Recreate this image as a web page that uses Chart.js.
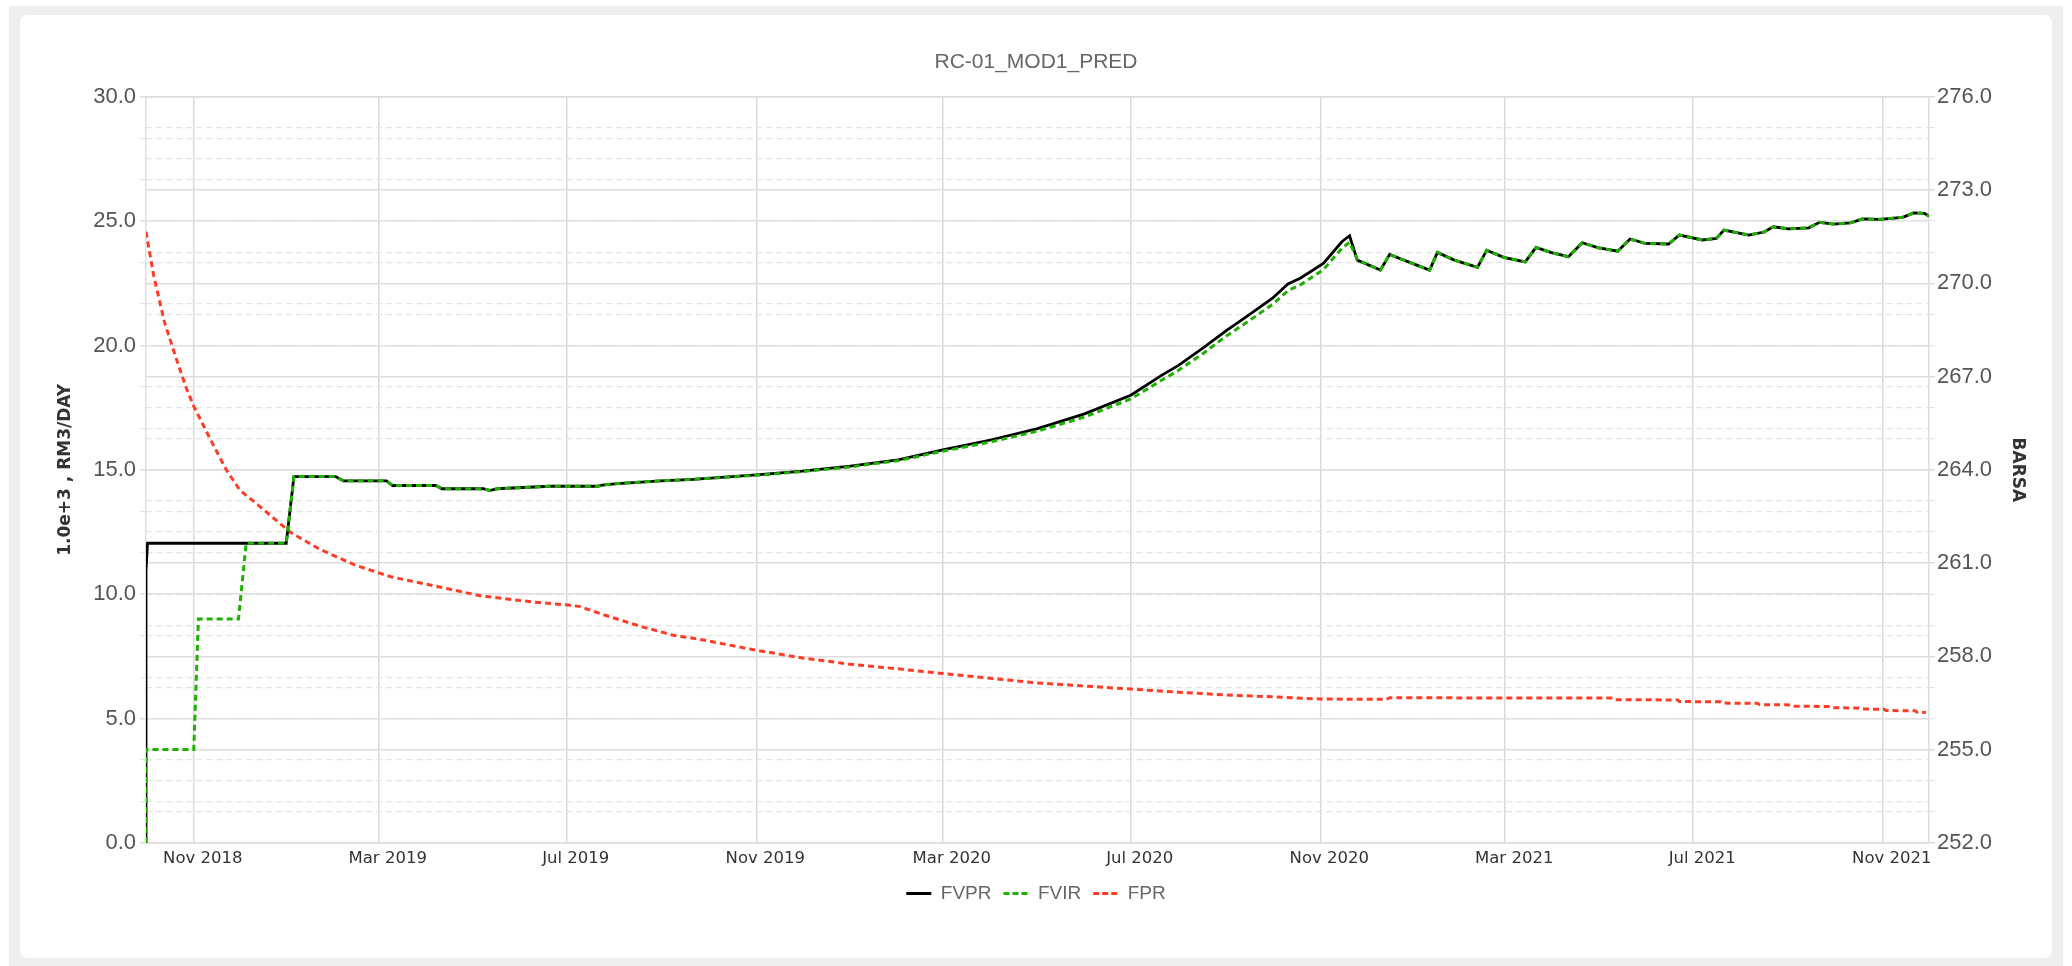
<!DOCTYPE html>
<html>
<head>
<meta charset="utf-8">
<title>RC-01_MOD1_PRED</title>
<script src="https://cdn.jsdelivr.net/npm/chart.js@4.4.0/dist/chart.umd.min.js"></script>
<style>
    html, body { margin: 0; padding: 0; background: #fff; }
    .frame { position: absolute; left: 9px; top: 6px; width: 2054px; height: 960px; background: #efefef; }
    .card { position: absolute; left: 11px; top: 9px; width: 2032px; height: 943px; background: #fff; border-radius: 8px; }
    canvas { display: block; }
</style>
</head>
<body>
<div class="frame">
    <div class="card">
        <canvas id="wellChart" width="2032" height="943"></canvas>
    </div>
</div>
<script>
// Axis range and tick labels
var xMin = '2018-10-01';
var xMax = '2021-12-01';
var xTickDates = ['2018-11-01', '2019-03-01', '2019-07-01', '2019-11-01', '2020-03-01',
    '2020-07-01', '2020-11-01', '2021-03-01', '2021-07-01', '2021-11-01'];
var xTickLabels = ['Nov 2018', 'Mar 2019', 'Jul 2019', 'Nov 2019', 'Mar 2020',
    'Jul 2020', 'Nov 2020', 'Mar 2021', 'Jul 2021', 'Nov 2021'];

var leftTicks = [0, 5, 10, 15, 20, 25, 30];
var leftMinorTicks = [1.667, 3.333, 6.667, 8.333, 11.667, 13.333, 16.667, 18.333, 21.667, 23.333, 26.667, 28.333];
var rightTicks = [252, 255, 258, 261, 264, 267, 270, 273, 276];
var rightMinorTicks = [253, 254, 256, 257, 259, 260, 262, 263, 265, 266, 268, 269, 271, 272, 274, 275];

// FVPR (1.0e+3 RM3/DAY)
var fvprDates = ['2018-10-01', '2018-10-01', '2018-10-02', '2018-12-31', '2019-01-05', '2019-02-01',
    '2019-02-06', '2019-03-06', '2019-03-10', '2019-04-07', '2019-04-11', '2019-05-08', '2019-05-12',
    '2019-05-17', '2019-05-30', '2019-06-20', '2019-07-21', '2019-07-24', '2019-08-03', '2019-08-31',
    '2019-09-21', '2019-11-01', '2019-12-01', '2020-01-01', '2020-02-01', '2020-03-01', '2020-04-01',
    '2020-05-01', '2020-06-01', '2020-07-01', '2020-07-21', '2020-08-01', '2020-08-17', '2020-09-01',
    '2020-09-16', '2020-10-01', '2020-10-11', '2020-10-19', '2020-11-03', '2020-11-15', '2020-11-20',
    '2020-11-25', '2020-12-10', '2020-12-16', '2020-12-24', '2021-01-11', '2021-01-16', '2021-01-27',
    '2021-02-11', '2021-02-17', '2021-02-28', '2021-03-14', '2021-03-21', '2021-03-31', '2021-04-11',
    '2021-04-20', '2021-04-30', '2021-05-13', '2021-05-21', '2021-05-31', '2021-06-15', '2021-06-22',
    '2021-07-07', '2021-07-16', '2021-07-21', '2021-08-06', '2021-08-16', '2021-08-22', '2021-09-01',
    '2021-09-14', '2021-09-21', '2021-09-30', '2021-10-11', '2021-10-19', '2021-10-30', '2021-11-14',
    '2021-11-21', '2021-11-28', '2021-12-01'];
var fvprValues = [0, 10.95, 12.05, 12.05, 14.73, 14.73,
    14.56, 14.56, 14.37, 14.37, 14.24, 14.24, 14.17,
    14.24, 14.28, 14.34, 14.34, 14.39, 14.45, 14.56,
    14.62, 14.8, 14.95, 15.15, 15.4, 15.8, 16.2,
    16.65, 17.25, 18.0, 18.8, 19.2, 19.9, 20.6,
    21.24, 21.9, 22.47, 22.7, 23.3, 24.17, 24.41,
    23.43, 23.03, 23.66, 23.46, 23.03, 23.74, 23.43,
    23.14, 23.83, 23.54, 23.36, 23.94, 23.73, 23.57,
    24.13, 23.93, 23.79, 24.28, 24.1, 24.08, 24.44,
    24.24, 24.3, 24.64, 24.44, 24.56, 24.77, 24.69,
    24.73, 24.95, 24.88, 24.93, 25.09, 25.07, 25.15,
    25.33, 25.31, 25.2];

// FVIR (1.0e+3 RM3/DAY)
var fvirDates = ['2018-10-01', '2018-10-01', '2018-11-01', '2018-11-04', '2018-11-30', '2018-12-05',
    '2018-12-31', '2019-01-05', '2019-02-01', '2019-02-06', '2019-03-06', '2019-03-10', '2019-04-07',
    '2019-04-11', '2019-05-08', '2019-05-12', '2019-05-17', '2019-05-30', '2019-06-20', '2019-07-21',
    '2019-07-24', '2019-08-03', '2019-08-31', '2019-09-21', '2019-11-01', '2019-12-01', '2020-01-01',
    '2020-02-01', '2020-03-01', '2020-04-01', '2020-05-01', '2020-06-01', '2020-07-01', '2020-07-21',
    '2020-08-01', '2020-08-17', '2020-09-01', '2020-09-16', '2020-10-01', '2020-10-11', '2020-10-19',
    '2020-11-03', '2020-11-15', '2020-11-20', '2020-11-25', '2020-12-10', '2020-12-16', '2020-12-24',
    '2021-01-11', '2021-01-16', '2021-01-27', '2021-02-11', '2021-02-17', '2021-02-28', '2021-03-14',
    '2021-03-21', '2021-03-31', '2021-04-11', '2021-04-20', '2021-04-30', '2021-05-13', '2021-05-21',
    '2021-05-31', '2021-06-15', '2021-06-22', '2021-07-07', '2021-07-16', '2021-07-21', '2021-08-06',
    '2021-08-16', '2021-08-22', '2021-09-01', '2021-09-14', '2021-09-21', '2021-09-30', '2021-10-11',
    '2021-10-19', '2021-10-30', '2021-11-14', '2021-11-21', '2021-11-28', '2021-12-01'];
var fvirValues = [0, 3.76, 3.76, 9.0, 9.0, 12.05,
    12.05, 14.73, 14.73, 14.56, 14.56, 14.37, 14.37,
    14.24, 14.24, 14.17, 14.24, 14.28, 14.34, 14.34,
    14.39, 14.45, 14.56, 14.62, 14.78, 14.93, 15.12,
    15.37, 15.75, 16.12, 16.55, 17.12, 17.85, 18.6,
    19.0, 19.68, 20.38, 21.0, 21.65, 22.2, 22.43,
    23.05, 23.9, 24.15, 23.45, 23.03, 23.66, 23.46,
    23.03, 23.74, 23.43, 23.14, 23.83, 23.54, 23.36,
    23.94, 23.73, 23.57, 24.13, 23.93, 23.79, 24.28,
    24.1, 24.08, 24.44, 24.24, 24.3, 24.64, 24.44,
    24.56, 24.77, 24.69, 24.73, 24.95, 24.88, 24.93,
    25.09, 25.07, 25.15, 25.33, 25.31, 25.2];

// FPR (BARSA)
var fprDates = ['2018-10-01', '2018-10-06', '2018-10-13', '2018-10-20', '2018-10-27', '2018-11-01',
    '2018-11-12', '2018-11-22', '2018-12-01', '2018-12-13', '2019-01-03', '2019-01-22', '2019-02-14',
    '2019-03-09', '2019-04-08', '2019-05-06', '2019-06-09', '2019-07-02', '2019-07-09', '2019-07-25',
    '2019-08-17', '2019-09-09', '2019-09-23', '2019-11-01', '2019-12-01', '2020-01-01', '2020-02-01',
    '2020-03-01', '2020-04-01', '2020-05-01', '2020-06-01', '2020-07-01', '2020-08-01', '2020-09-01',
    '2020-10-01', '2020-11-01', '2020-12-14', '2020-12-16', '2021-05-10', '2021-05-11', '2021-06-21',
    '2021-06-22', '2021-07-19', '2021-07-20', '2021-08-12', '2021-08-13', '2021-09-04', '2021-09-05',
    '2021-09-28', '2021-09-29', '2021-10-16', '2021-10-17', '2021-11-02', '2021-11-03', '2021-11-22',
    '2021-11-23', '2021-11-29'];
var fprValues = [271.66, 270.24, 268.75, 267.67, 266.65, 266.04,
    264.96, 264.01, 263.34, 262.86, 261.98, 261.44, 260.93,
    260.56, 260.25, 259.95, 259.75, 259.65, 259.61, 259.34,
    258.98, 258.67, 258.57, 258.2, 257.95, 257.75, 257.6,
    257.45, 257.3, 257.15, 257.05, 256.95, 256.85, 256.76,
    256.7, 256.63, 256.62, 256.67, 256.66, 256.61, 256.6,
    256.55, 256.54, 256.5, 256.49, 256.45, 256.44, 256.4,
    256.39, 256.35, 256.34, 256.31, 256.3, 256.26, 256.25,
    256.21, 256.2];

function toMs(d) {
    return Date.parse(d + 'T00:00:00Z');
}

function toPoints(dates, values) {
    return dates.map(function(d, i) { return { x: toMs(d), y: values[i] }; });
}

function buildTicks(major, minor) {
    var list = major.map(function(v) { return { value: v, minor: false }; })
        .concat(minor.map(function(v) { return { value: v, minor: true }; }));
    list.sort(function(a, b) { return a.value - b.value; });
    return list;
}

function isMinor(ctx) {
    return !!(ctx.tick && ctx.tick.minor);
}

var gridSolid = '#dddddd';
var gridDashed = '#e4e4e4';

function yGrid() {
    return {
        color: function(ctx) { return isMinor(ctx) ? gridDashed : gridSolid; },
        lineWidth: function(ctx) { return isMinor(ctx) ? 1.2 : 1.5; },
        tickLength: 6,
        tickColor: function(ctx) { return isMinor(ctx) ? gridDashed : gridSolid; }
    };
}

function yBorder() {
    return {
        color: gridSolid,
        width: 1.5,
        dash: function(ctx) { return isMinor(ctx) ? [6, 4] : []; }
    };
}

var tickFont = { family: "'Liberation Sans', Arial, sans-serif", size: 22 };
var axisTitleFont = { family: "'DejaVu Sans', sans-serif", size: 17, weight: 'bold' };

var ctx = document.getElementById('wellChart').getContext('2d');
var wellChart = new Chart(ctx, {
    type: 'line',
    data: {
        datasets: [{
            label: 'FVPR',
            data: toPoints(fvprDates, fvprValues),
            borderColor: '#000000',
            backgroundColor: '#000000',
            borderWidth: 2.8,
            yAxisID: 'y',
            order: 1
        }, {
            label: 'FVIR',
            data: toPoints(fvirDates, fvirValues),
            borderColor: '#1db100',
            backgroundColor: '#1db100',
            borderWidth: 3,
            borderDash: [6, 4],
            yAxisID: 'y',
            order: 0
        }, {
            label: 'FPR',
            data: toPoints(fprDates, fprValues),
            borderColor: '#ff3d24',
            backgroundColor: '#ff3d24',
            borderWidth: 3,
            borderDash: [6, 4],
            yAxisID: 'y1',
            order: 2
        }]
    },
    options: {
        responsive: false,
        devicePixelRatio: 1,
        animation: false,
        elements: {
            point: { radius: 0, hoverRadius: 0 },
            line: { tension: 0, fill: false }
        },
        layout: {
            padding: { top: 0, left: 0, right: 0, bottom: 45 }
        },
        plugins: {
            title: {
                display: true,
                text: 'RC-01_MOD1_PRED',
                color: '#666',
                font: { family: "'Liberation Sans', Arial, sans-serif", size: 21, weight: 'normal' },
                padding: { top: 34.4, bottom: 22.1 }
            },
            legend: {
                position: 'bottom',
                labels: {
                    color: '#666',
                    font: { family: "'Liberation Sans', Arial, sans-serif", size: 19 },
                    usePointStyle: true,
                    pointStyle: 'line',
                    pointStyleWidth: 25,
                    padding: 12,
                    sort: function(a, b) { return a.datasetIndex - b.datasetIndex; },
                    generateLabels: function(chart) {
                        var items = Chart.defaults.plugins.legend.labels.generateLabels(chart);
                        items.forEach(function(item) {
                            var ds = chart.data.datasets[item.datasetIndex];
                            item.lineDash = ds.borderDash ? [6, 3] : [];
                            item.lineWidth = 3;
                            item.strokeStyle = ds.borderColor;
                        });
                        return items;
                    }
                }
            },
            tooltip: { enabled: false }
        },
        scales: {
            x: {
                type: 'linear',
                min: toMs(xMin),
                max: toMs(xMax),
                afterBuildTicks: function(scale) {
                    scale.ticks = xTickDates.map(function(d) { return { value: toMs(d) }; });
                },
                afterFit: function(scale) { scale.height = 29; },
                grid: {
                    color: '#dadada',
                    lineWidth: 1.5,
                    drawTicks: false
                },
                border: { color: gridSolid, width: 1.5 },
                ticks: {
                    autoSkip: false,
                    maxRotation: 0,
                    padding: 6,
                    labelOffset: 9,
                    color: '#333',
                    font: { family: "'DejaVu Sans', sans-serif", size: 16.5 },
                    callback: function(value) {
                        var i = xTickDates.map(toMs).indexOf(value);
                        return i >= 0 ? xTickLabels[i] : '';
                    }
                }
            },
            y: {
                type: 'linear',
                position: 'left',
                min: 0,
                max: 30,
                afterBuildTicks: function(scale) {
                    scale.ticks = buildTicks(leftTicks, leftMinorTicks);
                },
                afterFit: function(scale) { scale.width = 126; },
                grid: yGrid(),
                border: yBorder(),
                ticks: {
                    autoSkip: false,
                    padding: 4,
                    color: '#555',
                    font: tickFont,
                    callback: function(value, index, ticks) {
                        return ticks[index].minor ? '' : value.toFixed(1);
                    }
                },
                title: {
                    display: true,
                    text: '1.0e+3 , RM3/DAY',
                    color: '#333',
                    font: axisTitleFont,
                    padding: { top: 35, bottom: 0 }
                }
            },
            y1: {
                type: 'linear',
                position: 'right',
                min: 252,
                max: 276,
                afterBuildTicks: function(scale) {
                    scale.ticks = buildTicks(rightTicks, rightMinorTicks);
                },
                afterFit: function(scale) { scale.width = 123; },
                grid: yGrid(),
                border: yBorder(),
                ticks: {
                    autoSkip: false,
                    padding: 2,
                    color: '#555',
                    font: tickFont,
                    callback: function(value, index, ticks) {
                        return ticks[index].minor ? '' : value.toFixed(1);
                    }
                },
                title: {
                    display: true,
                    text: 'BARSA',
                    color: '#333',
                    font: axisTitleFont,
                    padding: { top: 24, bottom: 0 }
                }
            }
        }
    }
});
</script>
</body>
</html>
